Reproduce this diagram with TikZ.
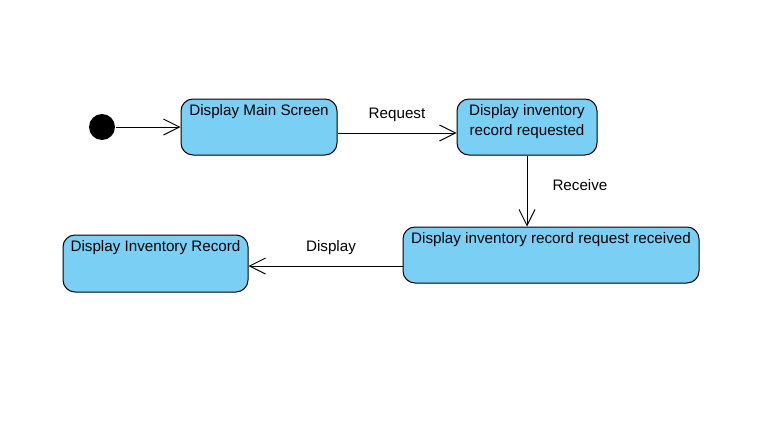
\documentclass[tikz,border=0pt]{standalone}
\usepackage{fontspec}
\setmainfont{Liberation Sans}
\usetikzlibrary{arrows.meta,positioning}
\definecolor{statefill}{RGB}{122,207,245}

\tikzset{
  stbox/.style={draw,fill=statefill,rounded corners=12pt,line width=1pt,inner sep=0pt},
  sttext/.style={anchor=north,align=center,inner sep=0pt,yshift=-5pt},
  startdot/.style={circle,fill=black,minimum size=26pt,inner sep=0pt},
  lbl/.style={inner sep=0pt}
}

\begin{document}
\begin{tikzpicture}[x=1pt,y=-1pt,->,>={Straight Barb[length=16pt,width=16pt]},line width=1pt,
  every node/.style={font=\fontsize{15.2}{20}\selectfont}]
  \useasboundingbox (0,0) rectangle (760,431);
  \node[startdot] (init) at (102,127) {};
  \node[stbox,minimum width=156pt,minimum height=56pt,
    label={[sttext]north:Display Main Screen}] (main) at (259,127) {};
  \node[stbox,minimum width=140pt,minimum height=56pt,
    label={[sttext]north:Display inventory\\record requested}] (req) at (527,127) {};
  \node[stbox,minimum width=296pt,minimum height=56pt,
    label={[sttext]north:Display inventory record request received}] (recv) at (551,255) {};
  \node[stbox,minimum width=185pt,minimum height=57pt,
    label={[sttext]north:Display Inventory Record}] (rec) at (155.5,263.5) {};
  \path (init) edge (main)
  ([yshift=-6pt]main.east) edge node[lbl,above=10.5pt] {Request} ([yshift=-6pt]req.west)
  (req.south) edge node[lbl,right=25pt,yshift=6pt] {Receive} (req.south |- recv.north)
  ([yshift=-11pt]recv.west) edge node[lbl,above=11pt,xshift=5.5pt] {Display} ([yshift=-11pt]recv.west -| rec.east)
  ;
\end{tikzpicture}
\end{document}
